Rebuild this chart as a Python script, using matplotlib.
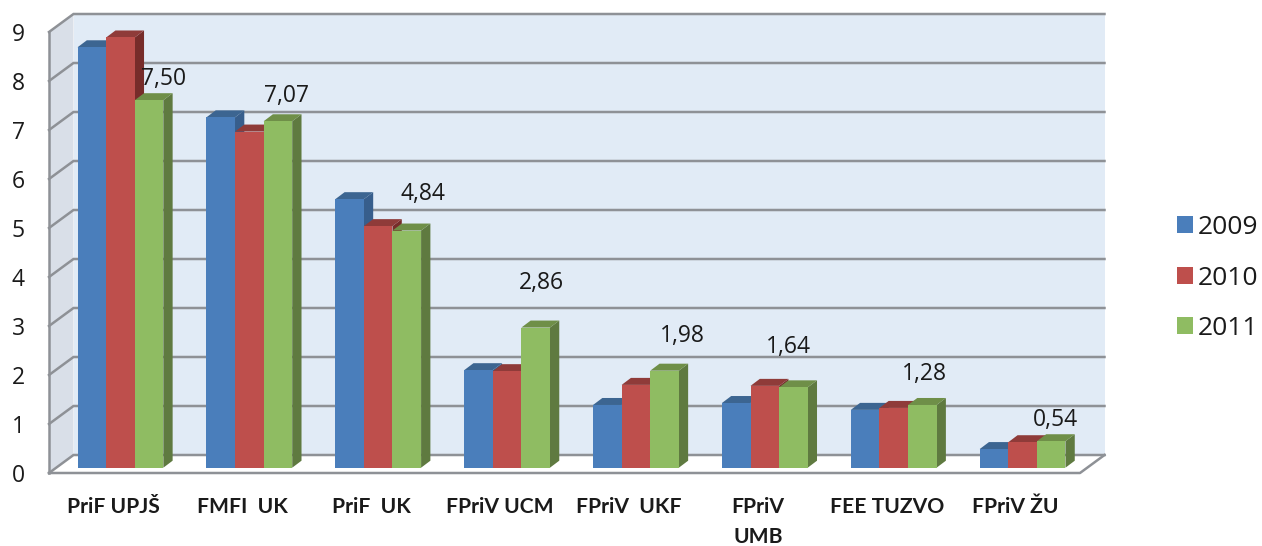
import matplotlib
matplotlib.use("Agg")
import matplotlib.pyplot as plt
from matplotlib.patches import Polygon, Rectangle

categories = ["PriF UPJŠ", "FMFI  UK", "PriF  UK", "FPriV UCM", "FPriV  UKF", "FPriV\nUMB", "FEE TUZVO", "FPriV ŽU"]
series_names = ["2009", "2010", "2011"]
values_2009 = [8.58, 7.15, 5.48, 1.99, 1.28, 1.32, 1.18, 0.38]
values_2010 = [8.78, 6.86, 4.93, 1.97, 1.69, 1.67, 1.22, 0.52]
values_2011 = [7.50, 7.07, 4.84, 2.86, 1.98, 1.64, 1.28, 0.54]
value_labels = ["7,50", "7,07", "4,84", "2,86", "1,98", "1,64", "1,28", "0,54"]

W, H = 1262, 546
AX_L, AX_R, AX_B, AX_T = 49, 1080, 473, 32
fig = plt.figure(figsize=(W / 100, H / 100), dpi=100, facecolor="white")
ax = fig.add_axes([AX_L / W, 1 - AX_B / H, (AX_R - AX_L) / W, (AX_B - AX_T) / H])
ax.set_xlim(-0.5, 7.5)
ax.set_ylim(0, 9)
ax.set_facecolor("none")
for s in ax.spines.values():
    s.set_visible(False)

PX = (AX_R - AX_L) / 8
PY = (AX_B - AX_T) / 9
x0, x1 = -0.5, 7.5
wall_dx, wall_dy = 24.5 / PX, 18 / PY
base_dx, base_dy = 7 / PX, 5.3 / PY
bar_dx, bar_dy = 9.3 / PX, 7 / PY
bar_w = 28.6 / PX

GRID = "#8E9196"
kw = dict(clip_on=False)

# walls and floor
ax.add_patch(Polygon([(x0 + wall_dx, wall_dy), (x1 + wall_dx, wall_dy), (x1 + wall_dx, 9 + wall_dy), (x0 + wall_dx, 9 + wall_dy)],
                     fc="#E1EBF6", ec="none", zorder=1, **kw))
ax.add_patch(Polygon([(x0, 0), (x0 + wall_dx, wall_dy), (x0 + wall_dx, 9 + wall_dy), (x0, 9)],
                     fc="#D9DFE8", ec="none", zorder=1, **kw))
ax.add_patch(Polygon([(x0, 0), (x1, 0), (x1 + wall_dx, wall_dy), (x0 + wall_dx, wall_dy)],
                     fc="white", ec="none", zorder=1, **kw))
for v in range(10):
    ax.plot([x0, x0 + wall_dx, x1 + wall_dx], [v, v + wall_dy, v + wall_dy],
            color=GRID, lw=1.8, zorder=2, solid_joinstyle="miter", **kw)
ax.plot([x0, x0], [0, 9], color=GRID, lw=1.8, zorder=2, **kw)
ax.plot([x0, x1, x1 + wall_dx], [0, 0, wall_dy], color=GRID, lw=1.8, zorder=2, **kw)

colors = [("#4A7EBB", "#3C6591", "#375E8C"),
          ("#BE4F4C", "#8F3B39", "#772C2A"),
          ("#8FBC62", "#6F8F48", "#5F7A40")]
all_vals = [values_2009, values_2010, values_2011]

for g in range(len(categories)):
    for s in range(3):
        v = all_vals[s][g]
        c_front, c_top, c_side = colors[s]
        left = g + base_dx + (s - 1.5) * bar_w
        right = left + bar_w
        top = v + base_dy
        z = 3 + g * 3 + s
        ax.add_patch(Polygon([(right, base_dy), (right + bar_dx, base_dy + bar_dy), (right + bar_dx, top + bar_dy), (right, top)],
                             fc=c_side, ec="none", zorder=z, **kw))
        ax.add_patch(Polygon([(left, top), (right, top), (right + bar_dx, top + bar_dy), (left + bar_dx, top + bar_dy)],
                             fc=c_top, ec="none", zorder=z, **kw))
        ax.bar(left + bar_w / 2, v, bar_w, bottom=base_dy, color=c_front, zorder=z + 0.1, **kw)

# data labels: hand placed in the original chart, offsets in pixels
label_dx = [15, 9, 16, 6, 18, -5, 2, 4]
label_dy = [21, 25, 37, 45, 35, 40, 31, 21]
for g, txt in enumerate(value_labels):
    ax.annotate(txt, xy=(g + base_dx + bar_w, values_2011[g] + base_dy),
                xytext=(label_dx[g] * 0.72, label_dy[g] * 0.72), textcoords="offset points",
                ha="center", va="center", fontsize=16.5, family="Open Sans", color="#1a1a1a",
                zorder=60, annotation_clip=False)

ax.set_xticks(range(len(categories)), categories, fontsize=15.2, family="Lato", fontweight="bold",
              color="#1a1a1a", linespacing=1.62)
ax.set_yticks(range(10), [str(i) for i in range(10)], fontsize=16.5, family="Open Sans", color="#1a1a1a")
ax.tick_params(axis="x", length=0, pad=17)
ax.tick_params(axis="y", length=0, pad=17.5)

handles = [Rectangle((0, 0), 1, 1, fc=c[0], ec="none") for c in colors]
fig.legend(handles, series_names, loc="center left", bbox_to_anchor=(1177 / W, 1 - 278 / H),
           frameon=False, handlelength=0.6, handleheight=0.6, handletextpad=0.18,
           labelspacing=0.97, borderpad=0, borderaxespad=0, prop={"family": "Open Sans", "size": 19},
           labelcolor="#1a1a1a")

fig.savefig("out.png", dpi=100, facecolor="white")
